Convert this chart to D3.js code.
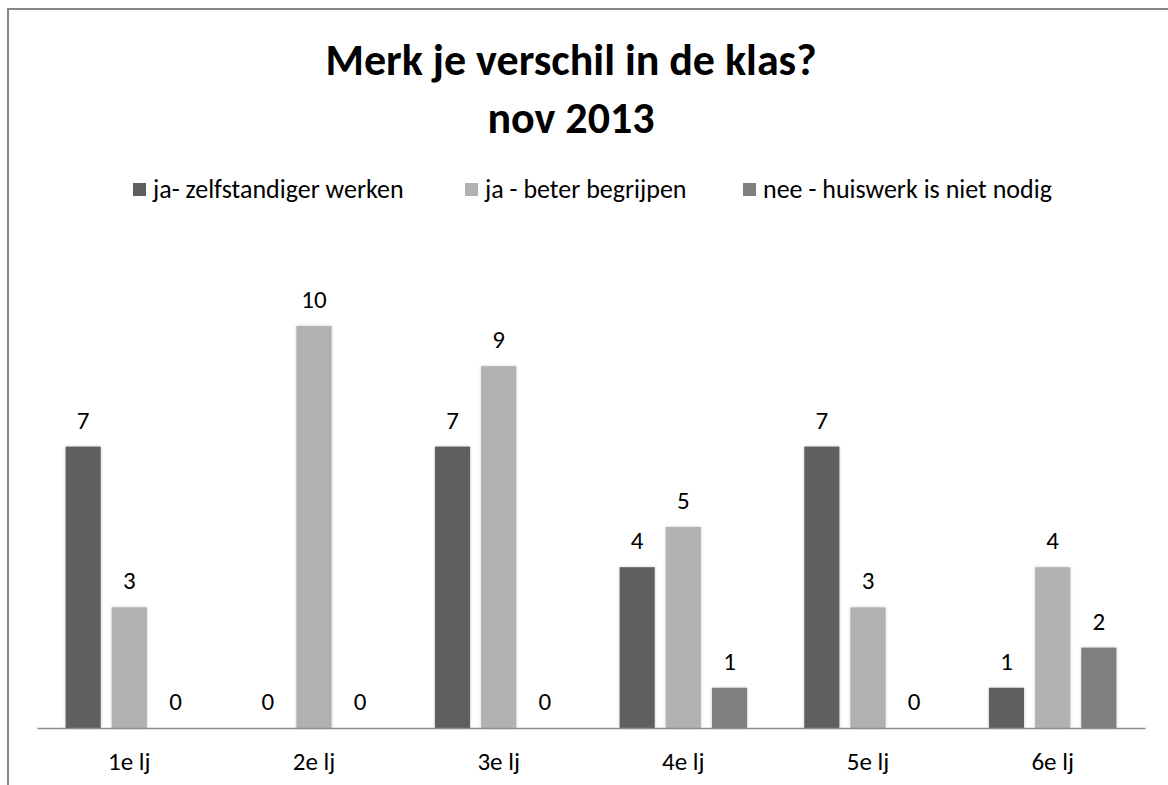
<!DOCTYPE html>
<html lang="en">
<head>
    <meta charset="UTF-8">
    <title>Merk je verschil in de klas?</title>
    <script src="https://d3js.org/d3.v7.min.js"></script>
    <style>
        body { margin: 0; background: #fff; }
        text { font-family: Carlito, Calibri, Lato, sans-serif; fill: #000; }
    </style>
</head>
    <body>
        <script>
            const categories = ['1e lj', '2e lj', '3e lj', '4e lj', '5e lj', '6e lj']
            const seriesNames = ['ja- zelfstandiger werken', 'ja - beter begrijpen', 'nee - huiswerk is niet nodig']
            const zelfstandiger = [7, 0, 7, 4, 7, 1]
            const begrijpen = [3, 10, 9, 5, 3, 4]
            const nietNodig = [0, 0, 0, 1, 0, 2]
            const colors = ['#5f5f5f', '#b1b1b1', '#7f7f7f']

            const seriesValues = [zelfstandiger, begrijpen, nietNodig]
            const data = categories.map((c, i) => ({
                cat: c,
                values: seriesNames.map((s, j) => ({ key: s, idx: j, value: seriesValues[j][i] }))
            }))

            let width = 1168
            let height = 785
            let baseline = 728

            let x0 = d3.scaleBand()
                .domain(categories)
                .range([37, 1145])
                .padding(0)

            let x1 = d3.scaleBand()
                .domain(seriesNames)
                .range([0, x0.bandwidth()])
                .paddingInner(0.24)
                .paddingOuter(0.62)

            let y = d3.scaleLinear()
                .domain([0, 10])
                .range([baseline, 326])

            let svg = d3.select('body').append('svg').attr('width', width).attr('height', height)

            let defs = svg.append('defs')
            let f = defs.append('filter').attr('id', 'glow')
                .attr('x', '-30%').attr('y', '-10%').attr('width', '160%').attr('height', '120%')
            f.append('feDropShadow')
                .attr('dx', 0).attr('dy', 0)
                .attr('stdDeviation', 1.6)
                .attr('flood-color', '#888')
                .attr('flood-opacity', 0.45)

            // outer frame (only top/left visible)
            svg.append('path')
                .attr('d', `M8,${height + 5} V9 H${width + 5}`)
                .attr('fill', 'none')
                .attr('stroke', '#878787')
                .attr('stroke-width', 2)

            // title
            let title = svg.append('text')
                .attr('text-anchor', 'middle')
                .style('font-size', '44px')
                .style('font-weight', 'bold')
            title.append('tspan').attr('x', 571).attr('y', 75).text('Merk je verschil in de klas?')
            title.append('tspan').attr('x', 571).attr('y', 133).text('nov 2013')

            // legend
            const legendX = [133, 465, 743]
            let legend = svg.append('g').attr('class', 'legend')
                .selectAll('g')
                .data(seriesNames)
                .join('g')
                .attr('transform', (d, i) => `translate(${legendX[i]},190)`)
            legend.append('rect')
                .attr('x', 0).attr('y', -7)
                .attr('width', 13).attr('height', 13)
                .attr('fill', (d, i) => colors[i])
            legend.append('text')
                .attr('x', 20).attr('y', 8)
                .style('font-size', '26px')
                .text(d => d)

            // bars
            let groups = svg.append('g')
                .attr('class', 'bars')
                .selectAll('g')
                .data(data)
                .join('g')
                .attr('transform', d => `translate(${x0(d.cat)},0)`)

            groups.selectAll('rect')
                .data(d => d.values.filter(v => v.value > 0))
                .join('rect')
                .attr('x', d => x1(d.key))
                .attr('y', d => y(d.value))
                .attr('width', x1.bandwidth())
                .attr('height', d => y(0) - y(d.value))
                .attr('fill', d => colors[d.idx])
                .attr('filter', 'url(#glow)')

            groups.selectAll('text')
                .data(d => d.values)
                .join('text')
                .attr('x', d => x1(d.key) + x1.bandwidth() / 2)
                .attr('y', d => y(d.value) - 18)
                .attr('text-anchor', 'middle')
                .style('font-size', '25px')
                .text(d => d.value)

            // category axis
            let xAxis = d3.axisBottom(x0).tickSize(0).tickPadding(24)
            let ax = svg.append('g')
                .attr('class', 'x-axis')
                .attr('transform', `translate(0,${baseline})`)
                .call(xAxis)
            ax.select('.domain').attr('stroke', '#8c8c8c').attr('stroke-width', 1.5)
            ax.selectAll('text').style('font-size', '25px').style('font-family', 'Carlito, Calibri, Lato, sans-serif')
        </script>
    </body>
</html>
